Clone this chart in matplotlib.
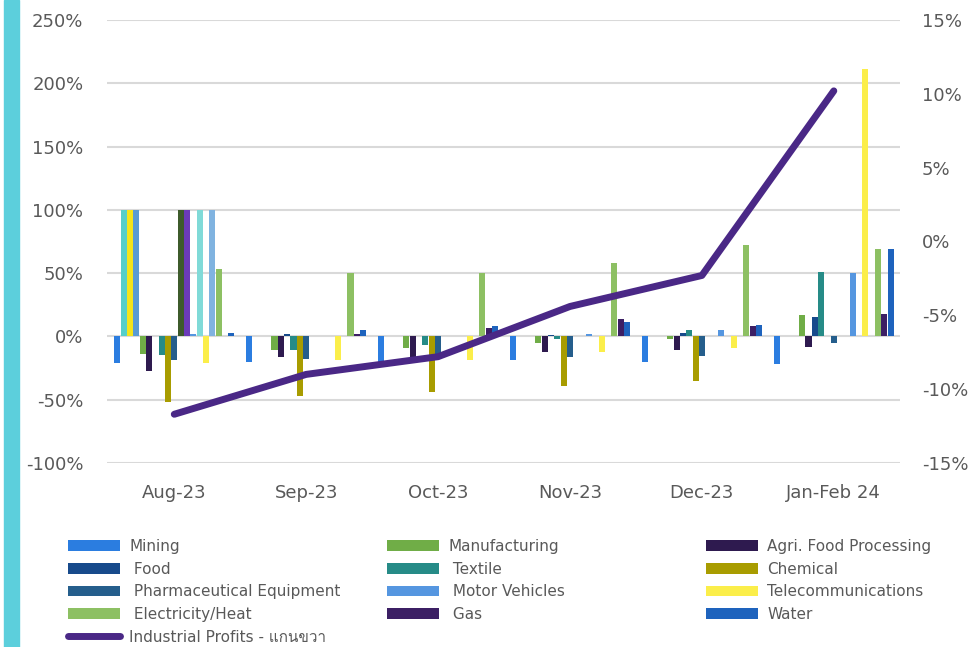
import numpy as np
import matplotlib.pyplot as plt
from matplotlib.patches import Rectangle
from matplotlib.lines import Line2D
from matplotlib import font_manager
from matplotlib.ft2font import FT2Font

# look for an installed family that can draw Thai
thai_family = None
for f in font_manager.fontManager.ttflist:
    try:
        if ord('ก') in FT2Font(f.fname).get_charmap():
            thai_family = f.name
            break
    except Exception:
        pass
fams = ['DejaVu Sans'] + ([thai_family] if thai_family else [])
plt.rcParams['font.family'] = fams

# data
categories = ['Aug-23', 'Sep-23', 'Oct-23', 'Nov-23', 'Dec-23', 'Jan-Feb 24']

mining = [-21, -20, -20, -19, -20, -22]
manufacturing = [-14, -11, -9, -5, -2, 17]
agri_food = [-27, -16, -17, -12, -11, -8]
food = [0, 2, 0, 1.5, 3, 15]
textile = [-15, -11, -6.5, -2, 5, 51]
chemical = [-52, -47, -44, -39, -35, 0]
pharma = [-19, -18, -16.5, -16.5, -15.5, -5]
motor = [2, 0, 0, 2, 5, 50]
telecom = [-21, -19, -19, -12, -9, 211]
electricity = [53, 50, 50, 58, 72, 69]
gas = [0, 2, 7, 14, 8, 18]
water = [3, 5, 8, 11, 9, 69]

# series without legend entries (only Aug-23 has a value)
extra_1 = [100, 0, 0, 0, 0, 0]
extra_2 = [100, 0, 0, 0, 0, 0]
extra_3 = [100, 0, 0, 0, 0, 0]
extra_4 = [100, 0, 0, 0, 0, 0]
extra_5 = [100, 0, 0, 0, 0, 0]
extra_6 = [100, 0, 0, 0, 0, 0]
extra_7 = [100, 0, 0, 0, 0, 0]

profits = [-11.7, -9.0, -7.8, -4.4, -2.3, 10.2]

# slot order inside each group
series = [
    (mining, '#2b7de0', 'Mining'),
    (extra_1, '#56cfc9', None),
    (extra_2, '#f5e41a', None),
    (extra_3, '#5a9bd3', None),
    (manufacturing, '#70ad47', 'Manufacturing'),
    (agri_food, '#2e1a4f', 'Agri. Food Processing'),
    (food, '#174a8b', ' Food'),
    (textile, '#268b87', ' Textile'),
    (chemical, '#a89c00', 'Chemical'),
    (pharma, '#255e8c', ' Pharmaceutical Equipment'),
    (extra_4, '#3d5b2b', None),
    (extra_5, '#6b3bb9', None),
    (motor, '#5596e0', ' Motor Vehicles'),
    (extra_6, '#80dad8', None),
    (telecom, '#fbee4a', 'Telecommunications'),
    (extra_7, '#80b3e0', None),
    (electricity, '#8dc063', ' Electricity/Heat'),
    (gas, '#3c1f64', ' Gas'),
    (water, '#1e63bd', 'Water'),
]

grey = '#595959'
line_color = '#4a2886'

fig = plt.figure(figsize=(9.78, 6.47), dpi=100)
ax = fig.add_axes([0.1094, 0.2844, 0.8106, 0.6847])
ax2 = ax.twinx()

x = np.arange(len(categories))
n = len(series)
slot = 0.048
bw = 0.046

handles = {}
for i, (vals, col, lab) in enumerate(series):
    offs = (i - (n - 1) / 2) * slot
    b = ax.bar(x + offs, vals, width=bw, color=col, zorder=3)
    if lab is not None:
        handles[lab] = b

ln, = ax2.plot(x, profits, color=line_color, lw=5, solid_capstyle='round', zorder=5)

ax.set_ylim(-100, 250)
ax.set_yticks(np.arange(-100, 251, 50))
ax.set_yticklabels([f'{v}%' for v in range(-100, 251, 50)])
ax2.set_ylim(-15, 15)
ax2.set_yticks(np.arange(-15, 16, 5))
ax2.set_yticklabels([f'{v}%' for v in range(-15, 16, 5)])
ax.set_xlim(-0.51, 5.5)
ax.set_xticks(x)
ax.set_xticklabels(categories)

ax.grid(axis='y', color='#d9d9d9', lw=1.5, zorder=0)
ax.set_axisbelow(True)
for a in (ax, ax2):
    for s in a.spines.values():
        s.set_visible(False)
    a.tick_params(length=0, colors=grey, labelsize=13)
ax.tick_params(axis='y', pad=17)
ax.tick_params(axis='x', pad=15)
ax2.tick_params(axis='y', pad=16)
ax2.set_zorder(ax.get_zorder() + 1)
ax2.patch.set_visible(False)

# cyan strip at left edge
fig.patches.append(Rectangle((4 / 978, 0), 15 / 978, 1, transform=fig.transFigure,
                             color='#5ccfdc', zorder=0))

# legend in three columns
line_handle = Line2D([], [], color=line_color, lw=5, solid_capstyle='round')
cols = [
    ([handles['Mining'], handles[' Food'], handles[' Pharmaceutical Equipment'],
      handles[' Electricity/Heat'], line_handle],
     ['Mining', ' Food', ' Pharmaceutical Equipment', ' Electricity/Heat',
      'Industrial Profits - แกนขวา'], 68),
    ([handles['Manufacturing'], handles[' Textile'], handles[' Motor Vehicles'], handles[' Gas']],
     ['Manufacturing', ' Textile', ' Motor Vehicles', ' Gas'], 387),
    ([handles['Agri. Food Processing'], handles['Chemical'], handles['Telecommunications'],
      handles['Water']],
     ['Agri. Food Processing', 'Chemical', 'Telecommunications', 'Water'], 706),
]
for hs, labs, px in cols:
    leg = fig.legend(hs, labs, loc='upper left', bbox_to_anchor=(px / 978, 1 - 539 / 647),
                     frameon=False, fontsize=11, labelcolor=grey, borderpad=0,
                     borderaxespad=0, handlelength=3.4, handleheight=0.7,
                     handletextpad=0.6, labelspacing=0.5)

fig.savefig('out.png', dpi=100)
